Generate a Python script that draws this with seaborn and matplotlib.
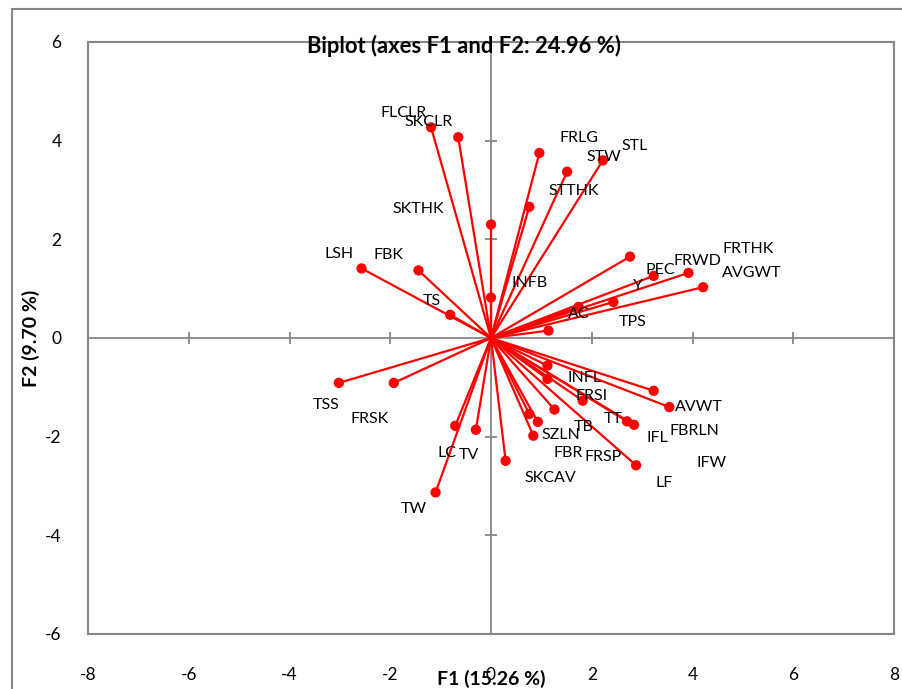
import pandas as pd
import matplotlib.pyplot as plt
import seaborn as sns
from matplotlib.patches import Rectangle

# Biplot vectors (F1, F2)
point_x = [-1.19, -0.65, 0.00, 0.00, -2.57, -1.44, -0.81, 0.96, 0.76, 1.51, 2.22, 2.76,
           3.23, 3.92, 4.21, 2.43, 1.74, 1.14, 1.12, 1.12, 3.23, 3.54, 1.82, 1.26,
           2.70, 2.84, 0.76, 0.93, 0.84, 2.88, 0.29, -3.02, -1.93, -0.71, -0.30, -1.10]
point_y = [4.27, 4.07, 2.30, 0.82, 1.41, 1.37, 0.47, 3.75, 2.66, 3.37, 3.60, 1.65,
           1.26, 1.32, 1.03, 0.73, 0.63, 0.15, -0.56, -0.83, -1.07, -1.40, -1.27, -1.45,
           -1.69, -1.76, -1.54, -1.70, -1.98, -2.58, -2.49, -0.91, -0.91, -1.78, -1.86, -3.13]

# variable labels, where they sit in the picture
label_names = ["FLCLR", "SKCLR", "SKTHK", "LSH", "FBK", "TS", "INFB",
               "FRLG", "STL", "STW", "STTHK", "PEC", "FRWD", "FRTHK", "AVGWT", "Y", "AC", "TPS",
               "INFL", "FRSI", "AVWT", "TT", "TB", "SZLN", "IFL", "FBRLN", "FBR", "FRSP",
               "IFW", "SKCAV", "LF", "TSS", "FRSK", "LC", "TV", "TW"]
label_x = [-1.74, -1.23, -1.45, -3.02, -2.04, -1.18, 0.76,
           1.74, 2.85, 2.24, 1.64, 3.37, 4.10, 5.11, 5.17, 2.91, 1.74, 2.82,
           1.86, 1.99, 4.12, 2.42, 1.84, 1.39, 3.31, 4.04, 1.53, 2.22,
           4.38, 1.18, 3.44, -3.28, -2.40, -0.88, -0.44, -1.53]
label_y = [4.56, 4.38, 2.61, 1.71, 1.68, 0.76, 1.12,
           4.06, 3.89, 3.67, 2.97, 1.38, 1.57, 1.81, 1.32, 1.05, 0.48, 0.32,
           -0.82, -1.17, -1.40, -1.64, -1.81, -1.96, -2.03, -1.88, -2.33, -2.42,
           -2.54, -2.84, -2.93, -1.35, -1.64, -2.33, -2.37, -3.47]

x_ticks = [-8, -6, -4, -2, 0, 2, 4, 6, 8]
y_ticks = [-6, -4, -2, 0, 2, 4, 6]

title = "Biplot (axes F1 and F2: 24.96 %)"
x_label = "F1 (15.26 %)"
y_label = "F2 (9.70 %)"

sns.set_style("white")
plt.rcParams["font.family"] = ["Lato", "DejaVu Sans"]
plt.rcParams["axes.unicode_minus"] = False
plt.rcParams["text.color"] = "black"
plt.rcParams["xtick.color"] = "black"
plt.rcParams["ytick.color"] = "black"

gray = "#868686"

# long form: origin + end point for every vector
rows = []
for i, (px, py) in enumerate(zip(point_x, point_y)):
    rows.append({"vec": i, "order": 0, "F1": 0.0, "F2": 0.0})
    rows.append({"vec": i, "order": 1, "F1": px, "F2": py})
df_vec = pd.DataFrame(rows)
df_pts = pd.DataFrame({"F1": point_x, "F2": point_y})

fig = plt.figure(figsize=(9.02, 6.89), dpi=100)
ax = fig.add_axes([88 / 902, 1 - 634 / 689, (894 - 88) / 902, (634 - 42) / 689])

# outer chart frame
fig.patches.append(Rectangle((12 / 902, -0.2), 2, 1.2 - 9 / 689, transform=fig.transFigure,
                             fill=False, edgecolor=gray, linewidth=1.5, zorder=0))

ax.axhline(0, color=gray, linewidth=1.3, zorder=1)
ax.axvline(0, color=gray, linewidth=1.3, zorder=1)
xt_in = [t for t in x_ticks if t not in (0, -8, 8)]
yt_in = [t for t in y_ticks if t not in (0, -6, 6)]
ax.plot(xt_in, [0] * len(xt_in), linestyle="none", marker="|", markersize=8,
        markeredgewidth=1.3, color=gray, zorder=1)
ax.plot([0] * len(yt_in), yt_in, linestyle="none", marker="_", markersize=9,
        markeredgewidth=1.3, color=gray, zorder=1)

sns.lineplot(data=df_vec, x="F1", y="F2", units="vec", estimator=None, sort=False,
             color="red", linewidth=1.6, ax=ax, zorder=2)
sns.scatterplot(data=df_pts, x="F1", y="F2", color="red", s=55, edgecolor="none",
                ax=ax, zorder=3)

for name, lx, ly in zip(label_names, label_x, label_y):
    ax.text(lx, ly, name, ha="center", va="center", fontsize=11.5, color="black", zorder=4)

ax.set_xlim(-8, 8)
ax.set_ylim(-6, 6)
ax.set_xticks(x_ticks)
ax.set_yticks(y_ticks)
ax.tick_params(axis="both", length=0, labelsize=12.5)
ax.tick_params(axis="x", pad=24)
ax.tick_params(axis="y", pad=19)
ax.set_xlabel("")
ax.set_ylabel("")
for s in ax.spines.values():
    s.set_color(gray)
    s.set_linewidth(1.5)

fig.text(464 / 902, 1 - 46 / 689, title, ha="center", va="center",
         fontsize=15.8, fontweight="bold", zorder=5)
fig.text(491 / 902, 1 - 679 / 689, x_label, ha="center", va="center",
         fontsize=14, fontweight="bold")
fig.text(31 / 902, 1 - 338 / 689, y_label, ha="center", va="center", rotation=90,
         fontsize=14, fontweight="bold")

fig.savefig("out.png", dpi=100)
